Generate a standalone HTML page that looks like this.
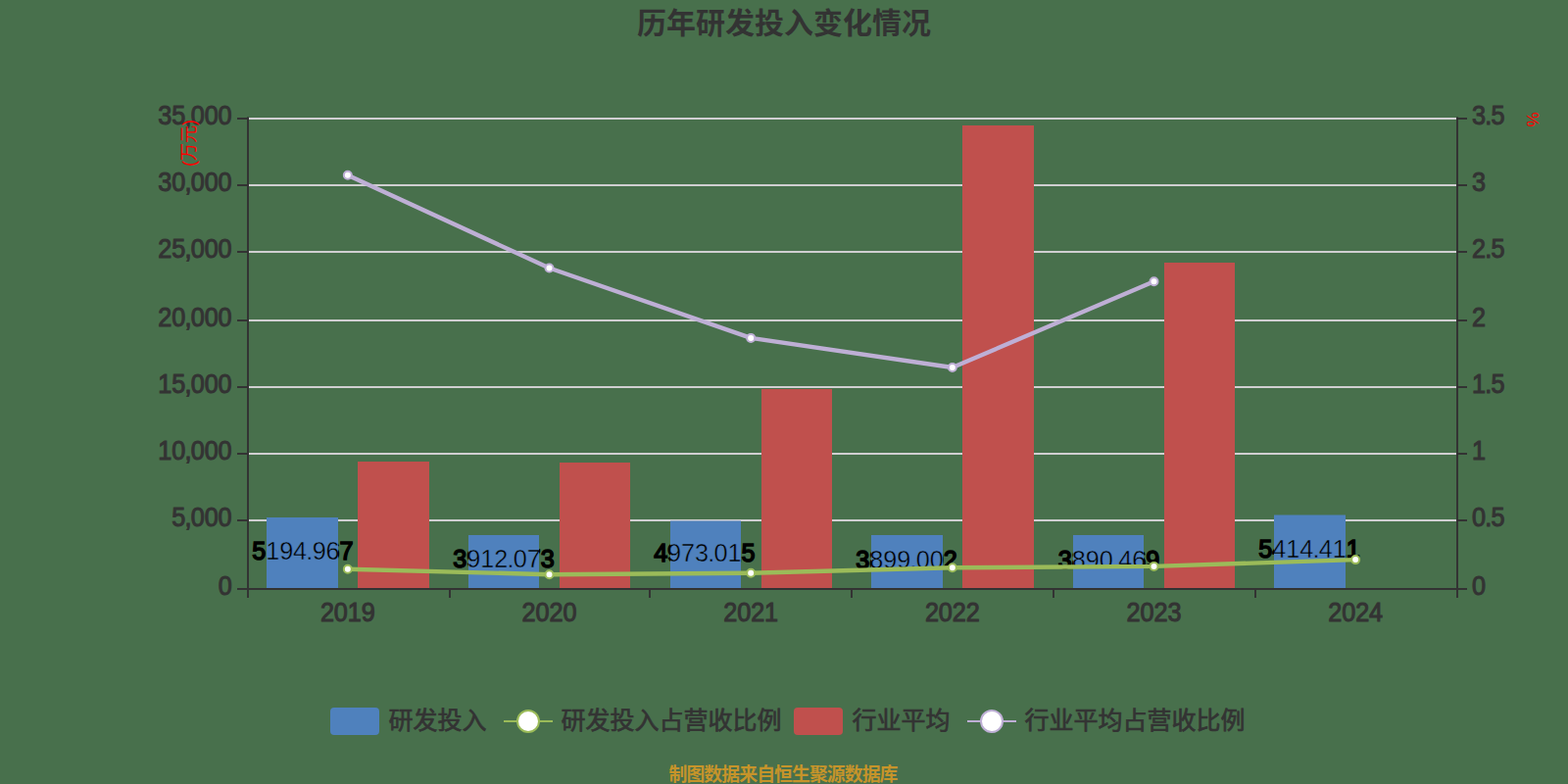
<!DOCTYPE html>
<html><head><meta charset="utf-8"><title>chart</title>
<style>html,body{margin:0;padding:0;background:#48704c;overflow:hidden}svg{display:block;font-family:"Liberation Sans","Noto Sans CJK SC",sans-serif}</style></head>
<body>
<svg width="1600" height="800" viewBox="0 0 1600 800">
<rect width="1600" height="800" fill="#48704c"/>
<rect x="254" y="120" width="1232" height="2" fill="#d0cfd1"/>
<rect x="254" y="188" width="1232" height="2" fill="#d0cfd1"/>
<rect x="254" y="256" width="1232" height="2" fill="#d0cfd1"/>
<rect x="254" y="326" width="1232" height="2" fill="#d0cfd1"/>
<rect x="254" y="394" width="1232" height="2" fill="#d0cfd1"/>
<rect x="254" y="462" width="1232" height="2" fill="#d0cfd1"/>
<rect x="254" y="530" width="1232" height="2" fill="#d0cfd1"/>
<rect x="272" y="528" width="73" height="72" fill="#4f81bd"/>
<rect x="478" y="546" width="72" height="54" fill="#4f81bd"/>
<rect x="684" y="531.5" width="72" height="68.5" fill="#4f81bd"/>
<rect x="889" y="546" width="73" height="54" fill="#4f81bd"/>
<rect x="1095" y="546" width="72" height="54" fill="#4f81bd"/>
<rect x="1300" y="525.5" width="73" height="74.5" fill="#4f81bd"/>
<rect x="365" y="471" width="73" height="129" fill="#c0504d"/>
<rect x="571" y="472" width="72" height="128" fill="#c0504d"/>
<rect x="777" y="397" width="72" height="203" fill="#c0504d"/>
<rect x="982" y="128" width="73" height="472" fill="#c0504d"/>
<rect x="1188" y="268" width="72" height="332" fill="#c0504d"/>
<defs><clipPath id="outbar"><path clip-rule="evenodd" d="M0 0H1600V800H0Z M272 528H345V600H272Z M478 546H550V600H478Z M684 531.5H756V600H684Z M889 546H962V600H889Z M1095 546H1167V600H1095Z M1300 525.5H1373V600H1300Z"/></clipPath><clipPath id="inbar"><path d="M272 528H345V600H272Z M478 546H550V600H478Z M684 531.5H756V600H684Z M889 546H962V600H889Z M1095 546H1167V600H1095Z M1300 525.5H1373V600H1300Z"/></clipPath></defs>
<text transform="translate(257.27 570.85) scale(1 1.05)" font-size="25.2" x="-0.03 13.92 27.87 41.82 55.10 61.37 75.32 89.27" fill="#000">5194.967</text>
<g clip-path="url(#inbar)"><text transform="translate(257.27 570.85) scale(1 1.05)" font-size="25.2" x="-0.03 13.92 27.87 41.82 55.10 61.37 75.32 89.27" fill="none" stroke="#4f81bd" stroke-width="0.45">5194.967</text></g>
<g clip-path="url(#outbar)"><text transform="translate(257.27 570.85) scale(1 1.05)" font-size="25.2" x="-0.03 13.92 27.87 41.82 55.10 61.37 75.32 89.27" fill="#000" stroke="#000" stroke-width="1.5">5194.967</text></g>
<text transform="translate(462.38 579.10) scale(1 1.05)" font-size="25.2" x="-0.03 13.92 27.87 41.82 55.10 61.37 75.32 89.27" fill="#000">3912.073</text>
<g clip-path="url(#inbar)"><text transform="translate(462.38 579.10) scale(1 1.05)" font-size="25.2" x="-0.03 13.92 27.87 41.82 55.10 61.37 75.32 89.27" fill="none" stroke="#4f81bd" stroke-width="0.45">3912.073</text></g>
<g clip-path="url(#outbar)"><text transform="translate(462.38 579.10) scale(1 1.05)" font-size="25.2" x="-0.03 13.92 27.87 41.82 55.10 61.37 75.32 89.27" fill="#000" stroke="#000" stroke-width="1.5">3912.073</text></g>
<text transform="translate(667.17 572.85) scale(1 1.05)" font-size="25.2" x="-0.03 13.92 27.87 41.82 55.10 61.37 75.32 89.27" fill="#000">4973.015</text>
<g clip-path="url(#inbar)"><text transform="translate(667.17 572.85) scale(1 1.05)" font-size="25.2" x="-0.03 13.92 27.87 41.82 55.10 61.37 75.32 89.27" fill="none" stroke="#4f81bd" stroke-width="0.45">4973.015</text></g>
<g clip-path="url(#outbar)"><text transform="translate(667.17 572.85) scale(1 1.05)" font-size="25.2" x="-0.03 13.92 27.87 41.82 55.10 61.37 75.32 89.27" fill="#000" stroke="#000" stroke-width="1.5">4973.015</text></g>
<text transform="translate(873.38 579.60) scale(1 1.05)" font-size="25.2" x="-0.03 13.92 27.87 41.82 55.10 61.37 75.32 89.27" fill="#000">3899.002</text>
<g clip-path="url(#inbar)"><text transform="translate(873.38 579.60) scale(1 1.05)" font-size="25.2" x="-0.03 13.92 27.87 41.82 55.10 61.37 75.32 89.27" fill="none" stroke="#4f81bd" stroke-width="0.45">3899.002</text></g>
<g clip-path="url(#outbar)"><text transform="translate(873.38 579.60) scale(1 1.05)" font-size="25.2" x="-0.03 13.92 27.87 41.82 55.10 61.37 75.32 89.27" fill="#000" stroke="#000" stroke-width="1.5">3899.002</text></g>
<text transform="translate(1079.88 579.60) scale(1 1.05)" font-size="25.2" x="-0.03 13.92 27.87 41.82 55.10 61.37 75.32 89.27" fill="#000">3890.469</text>
<g clip-path="url(#inbar)"><text transform="translate(1079.88 579.60) scale(1 1.05)" font-size="25.2" x="-0.03 13.92 27.87 41.82 55.10 61.37 75.32 89.27" fill="none" stroke="#4f81bd" stroke-width="0.45">3890.469</text></g>
<g clip-path="url(#outbar)"><text transform="translate(1079.88 579.60) scale(1 1.05)" font-size="25.2" x="-0.03 13.92 27.87 41.82 55.10 61.37 75.32 89.27" fill="#000" stroke="#000" stroke-width="1.5">3890.469</text></g>
<text transform="translate(1284.38 568.60) scale(1 1.05)" font-size="25.2" x="-0.03 13.92 27.87 41.82 55.10 61.37 75.32 89.27" fill="#000">5414.411</text>
<g clip-path="url(#inbar)"><text transform="translate(1284.38 568.60) scale(1 1.05)" font-size="25.2" x="-0.03 13.92 27.87 41.82 55.10 61.37 75.32 89.27" fill="none" stroke="#4f81bd" stroke-width="0.45">5414.411</text></g>
<g clip-path="url(#outbar)"><text transform="translate(1284.38 568.60) scale(1 1.05)" font-size="25.2" x="-0.03 13.92 27.87 41.82 55.10 61.37 75.32 89.27" fill="#000" stroke="#000" stroke-width="1.5">5414.411</text></g>
<rect x="252" y="119.4" width="2" height="482.6" fill="#333"/>
<rect x="1486" y="119.4" width="2" height="482.6" fill="#333"/>
<rect x="252" y="600" width="1236" height="2" fill="#333"/>
<rect x="242" y="120" width="10" height="2" fill="#333"/>
<rect x="1488" y="120" width="9" height="2" fill="#333"/>
<rect x="242" y="188" width="10" height="2" fill="#333"/>
<rect x="1488" y="188" width="9" height="2" fill="#333"/>
<rect x="242" y="256" width="10" height="2" fill="#333"/>
<rect x="1488" y="256" width="9" height="2" fill="#333"/>
<rect x="242" y="326" width="10" height="2" fill="#333"/>
<rect x="1488" y="326" width="9" height="2" fill="#333"/>
<rect x="242" y="394" width="10" height="2" fill="#333"/>
<rect x="1488" y="394" width="9" height="2" fill="#333"/>
<rect x="242" y="462" width="10" height="2" fill="#333"/>
<rect x="1488" y="462" width="9" height="2" fill="#333"/>
<rect x="242" y="530" width="10" height="2" fill="#333"/>
<rect x="1488" y="530" width="9" height="2" fill="#333"/>
<rect x="242" y="600" width="10" height="2" fill="#333"/>
<rect x="1488" y="600" width="9" height="2" fill="#333"/>
<rect x="252" y="602" width="2" height="8" fill="#333"/>
<rect x="458" y="602" width="2" height="8" fill="#333"/>
<rect x="662" y="602" width="2" height="8" fill="#333"/>
<rect x="868" y="602" width="2" height="8" fill="#333"/>
<rect x="1074" y="602" width="2" height="8" fill="#333"/>
<rect x="1280" y="602" width="2" height="8" fill="#333"/>
<rect x="1486" y="602" width="2" height="8" fill="#333"/>
<polyline points="354.83,580.75 560.50,586.20 766.17,584.80 971.83,579.30 1177.50,577.90 1383.17,571.10" fill="none" stroke="#9bbb59" stroke-width="4.4" stroke-linejoin="bevel"/>
<circle cx="354.83" cy="580.75" r="4" fill="#fff" stroke="#9bbb59" stroke-width="2"/>
<circle cx="560.50" cy="586.20" r="4" fill="#fff" stroke="#9bbb59" stroke-width="2"/>
<circle cx="766.17" cy="584.80" r="4" fill="#fff" stroke="#9bbb59" stroke-width="2"/>
<circle cx="971.83" cy="579.30" r="4" fill="#fff" stroke="#9bbb59" stroke-width="2"/>
<circle cx="1177.50" cy="577.90" r="4" fill="#fff" stroke="#9bbb59" stroke-width="2"/>
<circle cx="1383.17" cy="571.10" r="4" fill="#fff" stroke="#9bbb59" stroke-width="2"/>
<polyline points="354.83,178.75 560.50,273.50 766.17,344.90 971.83,375.00 1177.50,287.25" fill="none" stroke="#beafd5" stroke-width="4.4" stroke-linejoin="bevel"/>
<circle cx="354.83" cy="178.75" r="4" fill="#fff" stroke="#beafd5" stroke-width="2"/>
<circle cx="560.50" cy="273.50" r="4" fill="#fff" stroke="#beafd5" stroke-width="2"/>
<circle cx="766.17" cy="344.90" r="4" fill="#fff" stroke="#beafd5" stroke-width="2"/>
<circle cx="971.83" cy="375.00" r="4" fill="#fff" stroke="#beafd5" stroke-width="2"/>
<circle cx="1177.50" cy="287.25" r="4" fill="#fff" stroke="#beafd5" stroke-width="2"/>
<text transform="translate(161.25 127.11) scale(1 1.08)" font-size="25.2" x="-0.03 13.92 27.20 33.47 47.42 61.37" fill="#333" stroke="#333" stroke-width="1.0">35,000</text>
<text transform="translate(1502.00 127.11) scale(1 1.08)" font-size="25.2" x="-0.03 13.25 19.52" fill="#333" stroke="#333" stroke-width="1.0">3.5</text>
<text transform="translate(161.25 195.11) scale(1 1.08)" font-size="25.2" x="-0.03 13.92 27.20 33.47 47.42 61.37" fill="#333" stroke="#333" stroke-width="1.0">30,000</text>
<text transform="translate(1502.00 195.11) scale(1 1.08)" font-size="25.2" x="-0.03" fill="#333" stroke="#333" stroke-width="1.0">3</text>
<text transform="translate(161.25 263.11) scale(1 1.08)" font-size="25.2" x="-0.03 13.92 27.20 33.47 47.42 61.37" fill="#333" stroke="#333" stroke-width="1.0">25,000</text>
<text transform="translate(1502.00 263.11) scale(1 1.08)" font-size="25.2" x="-0.03 13.25 19.52" fill="#333" stroke="#333" stroke-width="1.0">2.5</text>
<text transform="translate(161.25 333.11) scale(1 1.08)" font-size="25.2" x="-0.03 13.92 27.20 33.47 47.42 61.37" fill="#333" stroke="#333" stroke-width="1.0">20,000</text>
<text transform="translate(1502.00 333.11) scale(1 1.08)" font-size="25.2" x="-0.03" fill="#333" stroke="#333" stroke-width="1.0">2</text>
<text transform="translate(161.25 401.11) scale(1 1.08)" font-size="25.2" x="-0.03 13.92 27.20 33.47 47.42 61.37" fill="#333" stroke="#333" stroke-width="1.0">15,000</text>
<text transform="translate(1502.00 401.11) scale(1 1.08)" font-size="25.2" x="-0.03 13.25 19.52" fill="#333" stroke="#333" stroke-width="1.0">1.5</text>
<text transform="translate(161.25 469.11) scale(1 1.08)" font-size="25.2" x="-0.03 13.92 27.20 33.47 47.42 61.37" fill="#333" stroke="#333" stroke-width="1.0">10,000</text>
<text transform="translate(1502.00 469.11) scale(1 1.08)" font-size="25.2" x="-0.03" fill="#333" stroke="#333" stroke-width="1.0">1</text>
<text transform="translate(175.20 537.11) scale(1 1.08)" font-size="25.2" x="-0.03 13.25 19.52 33.47 47.42" fill="#333" stroke="#333" stroke-width="1.0">5,000</text>
<text transform="translate(1502.00 537.11) scale(1 1.08)" font-size="25.2" x="-0.03 13.25 19.52" fill="#333" stroke="#333" stroke-width="1.0">0.5</text>
<text transform="translate(222.65 607.11) scale(1 1.08)" font-size="25.2" x="-0.03" fill="#333" stroke="#333" stroke-width="1.0">0</text>
<text transform="translate(1502.00 607.11) scale(1 1.08)" font-size="25.2" x="-0.03" fill="#333" stroke="#333" stroke-width="1.0">0</text>
<text transform="translate(326.93 634.36) scale(1 1.08)" font-size="25.2" x="-0.03 13.92 27.87 41.82" fill="#333" stroke="#333" stroke-width="1.0">2019</text>
<text transform="translate(532.60 634.36) scale(1 1.08)" font-size="25.2" x="-0.03 13.92 27.87 41.82" fill="#333" stroke="#333" stroke-width="1.0">2020</text>
<text transform="translate(738.27 634.36) scale(1 1.08)" font-size="25.2" x="-0.03 13.92 27.87 41.82" fill="#333" stroke="#333" stroke-width="1.0">2021</text>
<text transform="translate(943.93 634.36) scale(1 1.08)" font-size="25.2" x="-0.03 13.92 27.87 41.82" fill="#333" stroke="#333" stroke-width="1.0">2022</text>
<text transform="translate(1149.60 634.36) scale(1 1.08)" font-size="25.2" x="-0.03 13.92 27.87 41.82" fill="#333" stroke="#333" stroke-width="1.0">2023</text>
<text transform="translate(1355.27 634.36) scale(1 1.08)" font-size="25.2" x="-0.03 13.92 27.87 41.82" fill="#333" stroke="#333" stroke-width="1.0">2024</text>
<text transform="translate(198.5 146) rotate(-90)" text-anchor="middle" font-size="18" font-family="'Liberation Sans','Noto Sans CJK SC',sans-serif" fill="#f00">(万元)</text>
<text transform="translate(1569.5 122) rotate(-90)" text-anchor="middle" font-size="17" font-family="'Liberation Sans',sans-serif" fill="#f00">%</text>
<text x="650" y="34.3" font-size="30" font-weight="bold" font-family="'Liberation Sans','Noto Sans CJK SC',sans-serif" fill="#333">历年研发投入变化情况</text>
<rect x="337" y="722" width="50" height="28" rx="4" fill="#4f81bd"/>
<text x="396.5" y="743.7" font-size="25" font-family="'Liberation Sans','Noto Sans CJK SC',sans-serif" fill="#333" stroke="#333" stroke-width="0.7">研发投入</text>
<rect x="514" y="735" width="50" height="2" fill="#9bbb59"/>
<circle cx="539" cy="736" r="11" fill="#fff" stroke="#9bbb59" stroke-width="2"/>
<text x="572.5" y="743.7" font-size="25" font-family="'Liberation Sans','Noto Sans CJK SC',sans-serif" fill="#333" stroke="#333" stroke-width="0.7">研发投入占营收比例</text>
<rect x="810" y="722" width="50" height="28" rx="4" fill="#c0504d"/>
<text x="869.5" y="743.7" font-size="25" font-family="'Liberation Sans','Noto Sans CJK SC',sans-serif" fill="#333" stroke="#333" stroke-width="0.7">行业平均</text>
<rect x="987" y="735" width="50" height="2" fill="#beafd5"/>
<circle cx="1012" cy="736" r="11" fill="#fff" stroke="#beafd5" stroke-width="2"/>
<text x="1045.5" y="743.7" font-size="25" font-family="'Liberation Sans','Noto Sans CJK SC',sans-serif" fill="#333" stroke="#333" stroke-width="0.7">行业平均占营收比例</text>
<text x="682.5" y="796.6" font-size="18.9" font-weight="bold" textLength="234" lengthAdjust="spacing" font-family="'Liberation Sans','Noto Sans CJK SC',sans-serif" fill="#c6942a">制图数据来自恒生聚源数据库</text>
</svg>
</body></html>
